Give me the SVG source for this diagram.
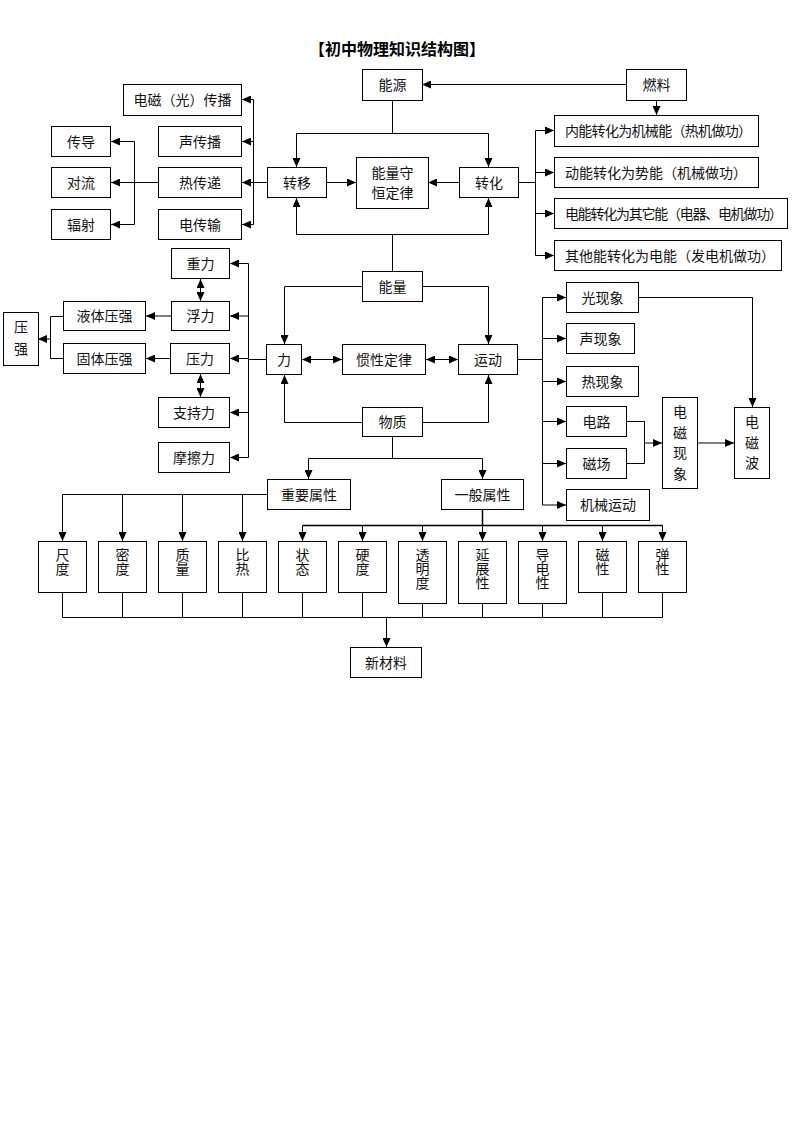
<svg xmlns="http://www.w3.org/2000/svg" width="793" height="1122" viewBox="0 0 793 1122">
<defs>
<marker id="ah" markerUnits="userSpaceOnUse" markerWidth="10" markerHeight="8" refX="9" refY="4" orient="auto-start-reverse"><path d="M0,0 L9,4 L0,8 z" fill="#000"/></marker>
<style>
rect{fill:#fff;stroke:#000;stroke-width:1}
text{font-family:"Noto Sans CJK SC","Noto Sans",sans-serif;font-size:14px;fill:#111;text-anchor:middle}
.t{font-size:16px;font-weight:bold;fill:#000}
.l{text-anchor:start}
.vt{writing-mode:vertical-rl;text-anchor:start}
#conn path,#conn line{stroke:#000;stroke-width:1;fill:none}
.a{marker-end:url(#ah)}
.d{marker-start:url(#ah);marker-end:url(#ah)}
</style>
</defs>
<rect x="0" y="0" width="793" height="1122" style="fill:#fff;stroke:none"/>
<text class="t" x="397" y="55">【初中物理知识结构图】</text>

<g id="conn">
<line class="a" x1="626" y1="84.5" x2="422" y2="84.5"/>
<line class="a" x1="656.5" y1="100" x2="656.5" y2="115"/>
<path d="M392.5,100 V133.5 M296.5,133.5 H488.5"/>
<line class="a" x1="296.5" y1="133.5" x2="296.5" y2="167"/>
<line class="a" x1="488.5" y1="133.5" x2="488.5" y2="167"/>
<line class="a" x1="327" y1="182.5" x2="356" y2="182.5"/>
<line class="a" x1="459" y1="182.5" x2="428" y2="182.5"/>
<path d="M392.5,271 V234.5 M296.5,234.5 H488.5"/>
<line class="a" x1="296.5" y1="234.5" x2="296.5" y2="198"/>
<line class="a" x1="488.5" y1="234.5" x2="488.5" y2="198"/>
<path d="M267,182.5 H253.5 M253.5,99.5 V224.5"/>
<line class="a" x1="253.5" y1="99.5" x2="242" y2="99.5"/>
<line class="a" x1="253.5" y1="141.5" x2="242" y2="141.5"/>
<line class="a" x1="253.5" y1="182.5" x2="242" y2="182.5"/>
<line class="a" x1="253.5" y1="224.5" x2="242" y2="224.5"/>
<path d="M158,182.5 H134.5 M134.5,141.5 V224.5"/>
<line class="a" x1="134.5" y1="141.5" x2="111" y2="141.5"/>
<line class="a" x1="134.5" y1="182.5" x2="111" y2="182.5"/>
<line class="a" x1="134.5" y1="224.5" x2="111" y2="224.5"/>
<path d="M518,182.5 H535.5 M535.5,130.5 V255.5"/>
<line class="a" x1="535.5" y1="130.5" x2="554" y2="130.5"/>
<line class="a" x1="535.5" y1="172.5" x2="554" y2="172.5"/>
<line class="a" x1="535.5" y1="213.5" x2="554" y2="213.5"/>
<line class="a" x1="535.5" y1="255.5" x2="554" y2="255.5"/>
<path class="a" d="M362,286.5 H284.5 V344"/>
<path class="a" d="M422,286.5 H488.5 V344"/>
<line class="d" x1="302" y1="359.5" x2="342" y2="359.5"/>
<line class="d" x1="426" y1="359.5" x2="458" y2="359.5"/>
<path class="a" d="M362,422.5 H284.5 V375"/>
<path class="a" d="M422,422.5 H488.5 V375"/>
<path d="M392.5,437 V458.5 M308.5,458.5 H482.5"/>
<line class="a" x1="308.5" y1="458.5" x2="308.5" y2="479"/>
<line class="a" x1="482.5" y1="458.5" x2="482.5" y2="479"/>
<path d="M266,359.5 H248.5 M248.5,263.5 V457.5"/>
<line class="a" x1="248.5" y1="263.5" x2="230" y2="263.5"/>
<line class="a" x1="248.5" y1="316" x2="230" y2="316"/>
<line class="a" x1="248.5" y1="358.5" x2="230" y2="358.5"/>
<line class="a" x1="248.5" y1="412.5" x2="230" y2="412.5"/>
<line class="a" x1="248.5" y1="457.5" x2="230" y2="457.5"/>
<line class="d" x1="200.5" y1="279" x2="200.5" y2="301"/>
<line class="d" x1="200.5" y1="374" x2="200.5" y2="397"/>
<line class="a" x1="171" y1="316" x2="146" y2="316"/>
<line class="a" x1="170" y1="358.5" x2="146" y2="358.5"/>
<path d="M63,316.5 H50.5 V358.5 H63"/>
<line class="a" x1="50.5" y1="339" x2="38" y2="339"/>
<path d="M518,359.5 H542.5 M542.5,297.5 V505"/>
<line class="a" x1="542.5" y1="297.5" x2="566" y2="297.5"/>
<line class="a" x1="542.5" y1="338.5" x2="566" y2="338.5"/>
<line class="a" x1="542.5" y1="381.5" x2="566" y2="381.5"/>
<line class="a" x1="542.5" y1="421.5" x2="566" y2="421.5"/>
<line class="a" x1="542.5" y1="463.5" x2="566" y2="463.5"/>
<line class="a" x1="542.5" y1="505" x2="566" y2="505"/>
<path class="a" d="M639,297.5 H752.5 V407"/>
<path d="M627,421.5 H644.5 V463.5 H627"/>
<line class="a" x1="644.5" y1="443" x2="662" y2="443"/>
<line class="a" x1="698" y1="443" x2="734" y2="443"/>
<path d="M267,494.5 H62.5"/>
<line class="a" x1="62.5" y1="494.5" x2="62.5" y2="541"/>
<line class="a" x1="122.5" y1="494.5" x2="122.5" y2="541"/>
<line class="a" x1="182.5" y1="494.5" x2="182.5" y2="541"/>
<line class="a" x1="242.5" y1="494.5" x2="242.5" y2="541"/>
<path d="M482.5,510 V525.5 M302.5,525.5 H662.5" style="stroke-width:1.5"/>
<line class="a" x1="302.5" y1="525.5" x2="302.5" y2="541"/>
<line class="a" x1="362.5" y1="525.5" x2="362.5" y2="541"/>
<line class="a" x1="422.5" y1="525.5" x2="422.5" y2="541"/>
<line class="a" x1="482.5" y1="525.5" x2="482.5" y2="541"/>
<line class="a" x1="542.5" y1="525.5" x2="542.5" y2="541"/>
<line class="a" x1="602.5" y1="525.5" x2="602.5" y2="541"/>
<line class="a" x1="662.5" y1="525.5" x2="662.5" y2="541"/>
<path d="M62.5,593 V617.5 M122.5,593 V617.5 M182.5,593 V617.5 M242.5,593 V617.5 M302.5,593 V617.5 M362.5,593 V617.5 M422.5,604 V617.5 M482.5,604 V617.5 M542.5,604 V617.5 M602.5,593 V617.5 M662.5,593 V617.5 M62.5,617.5 H662.5"/>
<line class="a" x1="386.5" y1="617.5" x2="386.5" y2="647"/>
</g>

<g id="n-nengyuan"><rect x="362.5" y="69.5" width="60" height="31"/><text x="392.5" y="90">能源</text></g>
<g id="n-ranliao"><rect x="626.5" y="69.5" width="60" height="31"/><text x="656.5" y="90">燃料</text></g>
<g id="n-dcg"><rect x="123.5" y="84.5" width="118" height="31"/><text x="182.5" y="105">电磁（光）传播</text></g>
<g id="n-chuandao"><rect x="51.5" y="126.5" width="59" height="30"/><text x="81" y="146.5">传导</text></g>
<g id="n-shengcb"><rect x="158.5" y="126.5" width="83" height="30"/><text x="200" y="146.5">声传播</text></g>
<g id="n-duiliu"><rect x="51.5" y="167.5" width="59" height="30"/><text x="81" y="187.5">对流</text></g>
<g id="n-rechuandi"><rect x="158.5" y="167.5" width="83" height="30"/><text x="200" y="187.5">热传递</text></g>
<g id="n-fushe"><rect x="51.5" y="209.5" width="59" height="30"/><text x="81" y="229.5">辐射</text></g>
<g id="n-dianchuanshu"><rect x="158.5" y="209.5" width="83" height="30"/><text x="200" y="229.5">电传输</text></g>
<g id="n-zhuanyi"><rect x="267.5" y="167.5" width="59" height="30"/><text x="297" y="187.5">转移</text></g>
<g id="n-shouheng"><rect x="356.5" y="157.5" width="72" height="51"/><text x="392.5" y="178">能量守</text><text x="392.5" y="198">恒定律</text></g>
<g id="n-zhuanhua"><rect x="459.5" y="167.5" width="59" height="30"/><text x="489" y="187.5">转化</text></g>
<g id="n-neineng"><rect x="554.5" y="115.5" width="204" height="31"/><text class="l" x="565" y="136" textLength="187">内能转化为机械能（热机做功）</text></g>
<g id="n-dongneng"><rect x="554.5" y="157.5" width="204" height="30"/><text class="l" x="565" y="177.5">动能转化为势能（机械做功）</text></g>
<g id="n-dianneng"><rect x="554.5" y="198.5" width="233" height="30"/><text class="l" x="565" y="218.5" textLength="218">电能转化为其它能（电器、电机做功）</text></g>
<g id="n-qita"><rect x="554.5" y="240.5" width="227" height="30"/><text class="l" x="565" y="260.5">其他能转化为电能（发电机做功）</text></g>
<g id="n-nengliang"><rect x="362.5" y="271.5" width="60" height="30"/><text x="392.5" y="291.5">能量</text></g>
<g id="n-zhongli"><rect x="171.5" y="248.5" width="58" height="30"/><text x="200.5" y="268.5">重力</text></g>
<g id="n-fuli"><rect x="171.5" y="301.5" width="58" height="29"/><text x="200.5" y="321">浮力</text></g>
<g id="n-yeti"><rect x="63.5" y="301.5" width="82" height="29"/><text x="104.5" y="321">液体压强</text></g>
<g id="n-yaqiang"><rect x="3.5" y="312.5" width="35" height="53"/><text x="21" y="332">压</text><text x="21" y="354">强</text></g>
<g id="n-guti"><rect x="63.5" y="343.5" width="82" height="30"/><text x="104.5" y="363.5">固体压强</text></g>
<g id="n-yali"><rect x="170.5" y="343.5" width="59" height="30"/><text x="200" y="363.5">压力</text></g>
<g id="n-zhichi"><rect x="158.5" y="397.5" width="71" height="30"/><text x="194" y="417.5">支持力</text></g>
<g id="n-mocha"><rect x="158.5" y="442.5" width="71" height="30"/><text x="194" y="462.5">摩擦力</text></g>
<g id="n-li"><rect x="266.5" y="344.5" width="35" height="30"/><text x="284" y="364.5">力</text></g>
<g id="n-guanxing"><rect x="342.5" y="344.5" width="83" height="30"/><text x="384" y="364.5">惯性定律</text></g>
<g id="n-yundong"><rect x="458.5" y="344.5" width="59" height="30"/><text x="488" y="364.5">运动</text></g>
<g id="n-wuzhi"><rect x="362.5" y="407.5" width="60" height="29"/><text x="392.5" y="427">物质</text></g>
<g id="n-guang"><rect x="566.5" y="282.5" width="72" height="30"/><text x="602.5" y="302.5">光现象</text></g>
<g id="n-sheng"><rect x="566.5" y="323.5" width="68" height="30"/><text x="600.5" y="343.5">声现象</text></g>
<g id="n-re"><rect x="566.5" y="366.5" width="72" height="30"/><text x="602.5" y="386.5">热现象</text></g>
<g id="n-dianlu"><rect x="566.5" y="406.5" width="60" height="30"/><text x="596.5" y="426.5">电路</text></g>
<g id="n-cichang"><rect x="566.5" y="448.5" width="60" height="30"/><text x="596.5" y="468.5">磁场</text></g>
<g id="n-jixie"><rect x="566.5" y="489.5" width="83" height="31"/><text x="608" y="510">机械运动</text></g>
<g id="n-dcxx"><rect x="662.5" y="397.5" width="35" height="91"/><text x="680" y="417">电</text><text x="680" y="437.5">磁</text><text x="680" y="458">现</text><text x="680" y="478.5">象</text></g>
<g id="n-dcb"><rect x="734.5" y="407.5" width="35" height="71"/><text x="752" y="427">电</text><text x="752" y="447.5">磁</text><text x="752" y="468">波</text></g>
<g id="n-zhongyao"><rect x="267.5" y="479.5" width="83" height="30"/><text x="309" y="499.5">重要属性</text></g>
<g id="n-yiban"><rect x="441.5" y="479.5" width="82" height="30"/><text x="482.5" y="499.5">一般属性</text></g>
<g id="n-chidu"><rect x="38.5" y="541.5" width="48" height="51"/><text class="vt" x="62.5" y="548">尺度</text></g>
<g id="n-midu"><rect x="98.5" y="541.5" width="48" height="51"/><text class="vt" x="122.5" y="548">密度</text></g>
<g id="n-zhiliang"><rect x="158.5" y="541.5" width="48" height="51"/><text class="vt" x="182.5" y="548">质量</text></g>
<g id="n-bire"><rect x="218.5" y="541.5" width="48" height="51"/><text class="vt" x="242.5" y="548">比热</text></g>
<g id="n-zhuangtai"><rect x="278.5" y="541.5" width="48" height="51"/><text class="vt" x="302.5" y="548">状态</text></g>
<g id="n-yingdu"><rect x="338.5" y="541.5" width="48" height="51"/><text class="vt" x="362.5" y="548">硬度</text></g>
<g id="n-touming"><rect x="398.5" y="541.5" width="48" height="62"/><text class="vt" x="422.5" y="548">透明度</text></g>
<g id="n-yanzhan"><rect x="458.5" y="541.5" width="48" height="62"/><text class="vt" x="482.5" y="548">延展性</text></g>
<g id="n-daodian"><rect x="518.5" y="541.5" width="48" height="62"/><text class="vt" x="542.5" y="548">导电性</text></g>
<g id="n-cixing"><rect x="578.5" y="541.5" width="48" height="51"/><text class="vt" x="602.5" y="548">磁性</text></g>
<g id="n-tanxing"><rect x="638.5" y="541.5" width="48" height="51"/><text class="vt" x="662.5" y="548">弹性</text></g>
<g id="n-xincailiao"><rect x="350.5" y="647.5" width="71" height="30"/><text x="386" y="667.5">新材料</text></g>
</svg>
